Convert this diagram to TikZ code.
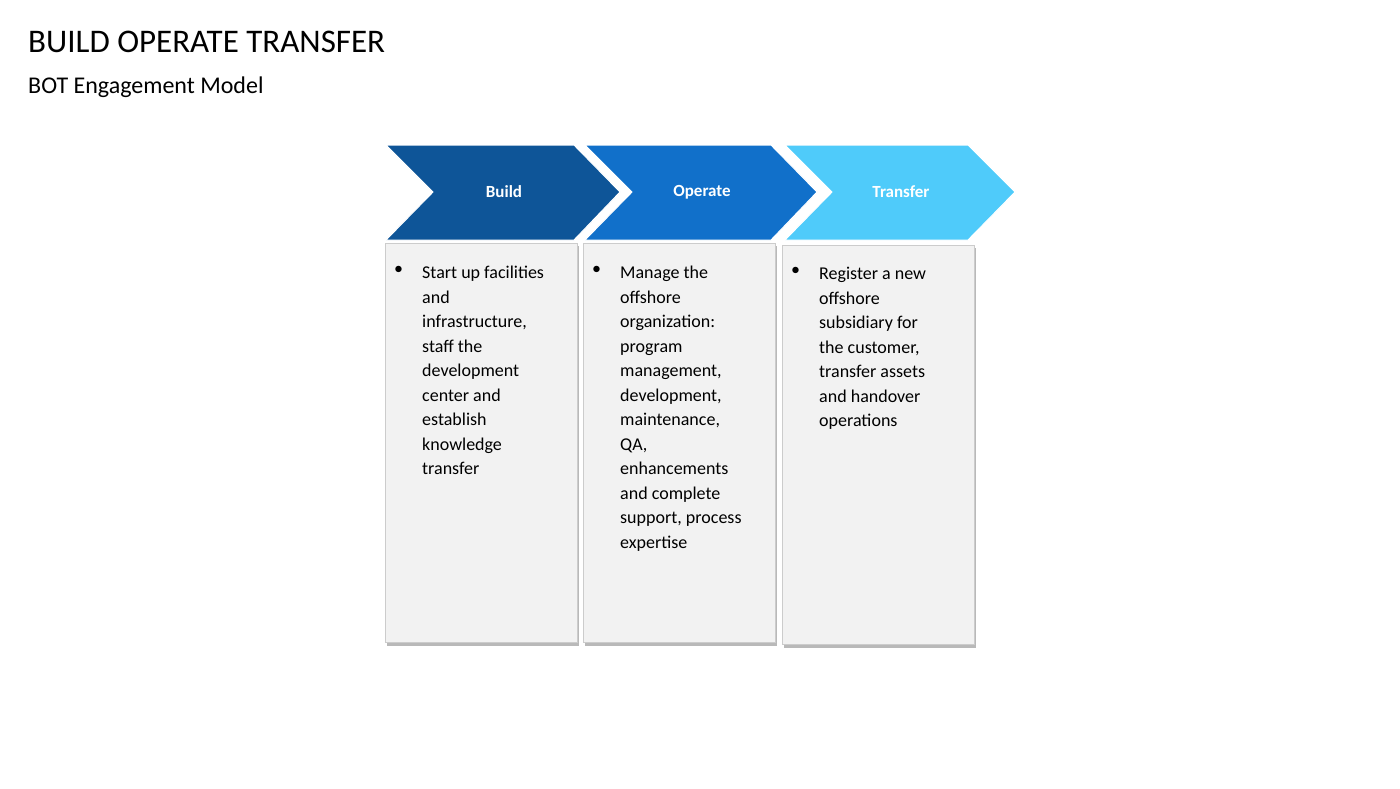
\documentclass[tikz,border=0pt]{standalone}
\usepackage{fontspec}
\setmainfont{Carlito}
\usetikzlibrary{positioning}
\definecolor{buildblue}{HTML}{0E5598}
\definecolor{operateblue}{HTML}{1170CA}
\definecolor{transferblue}{HTML}{4FCBFA}
\definecolor{boxgray}{HTML}{F2F2F2}
\tikzset{
	chev/.style={draw=white, line width=1pt},
	panel/.style={fill=boxgray, draw=gray!40},
	shade/.style={fill=gray!55},
	headtxt/.style={text=white, font=\fontsize{17}{20}\selectfont\bfseries},
	bodytxt/.style={anchor=north west, inner sep=0pt, align=left, font=\fontsize{18}{24.5}\selectfont}
}
\begin{document}
\begin{tikzpicture}[x=1pt,y=-1pt]
	\useasboundingbox (0,0) rectangle (1400,788);
	%title
	\node[anchor=west, inner sep=0pt, font=\fontsize{33}{38}\selectfont] (title) at (28,42) {BUILD OPERATE TRANSFER};
	\node[anchor=west, inner sep=0pt, font=\fontsize{24}{28}\selectfont] (subtitle) at (28,87) {BOT Engagement Model};
	
	%panels
	\fill[shade] (387,246) rectangle (579,646);
	\fill[shade] (585,246) rectangle (777,646);
	\fill[shade] (784,248) rectangle (976,648);
	\filldraw[panel] (385,243) rectangle (577,642);
	\filldraw[panel] (583,243) rectangle (775,642);
	\filldraw[panel] (782,245) rectangle (974,644);
	
	%chevrons
	\filldraw[chev, fill=buildblue] (386,145)--(574,145)--(620,192)--(574,240)--(386,240)--(433,192)--cycle;
	\filldraw[chev, fill=operateblue] (585,145)--(771,145)--(817,192)--(771,240)--(585,240)--(632,192)--cycle;
	\filldraw[chev, fill=transferblue] (785,145)--(968,145)--(1015,192)--(968,240)--(785,240)--(832,192)--cycle;
	\node[headtxt] (build) at (504,192) {Build};
	\node[headtxt] (operate) at (702,192) {Operate};
	\node[headtxt] (transfer) at (901,192) {Transfer};
	
	%bullets
	\node[bodytxt] (b1) at (394,266) {•};
	\node[bodytxt] (t1) at (422,266) {Start up facilities\\and\\infrastructure,\\staff the\\development\\center and\\establish\\knowledge\\transfer};
	\node[bodytxt] (b2) at (592,266) {•};
	\node[bodytxt] (t2) at (620,266) {Manage the\\offshore\\organization:\\program\\management,\\development,\\maintenance,\\QA,\\enhancements\\and complete\\support, process\\expertise};
	\node[bodytxt] (b3) at (791,267) {•};
	\node[bodytxt] (t3) at (819,267) {Register a new\\offshore\\subsidiary for\\the customer,\\transfer assets\\and handover\\operations};
\end{tikzpicture}
\end{document}
